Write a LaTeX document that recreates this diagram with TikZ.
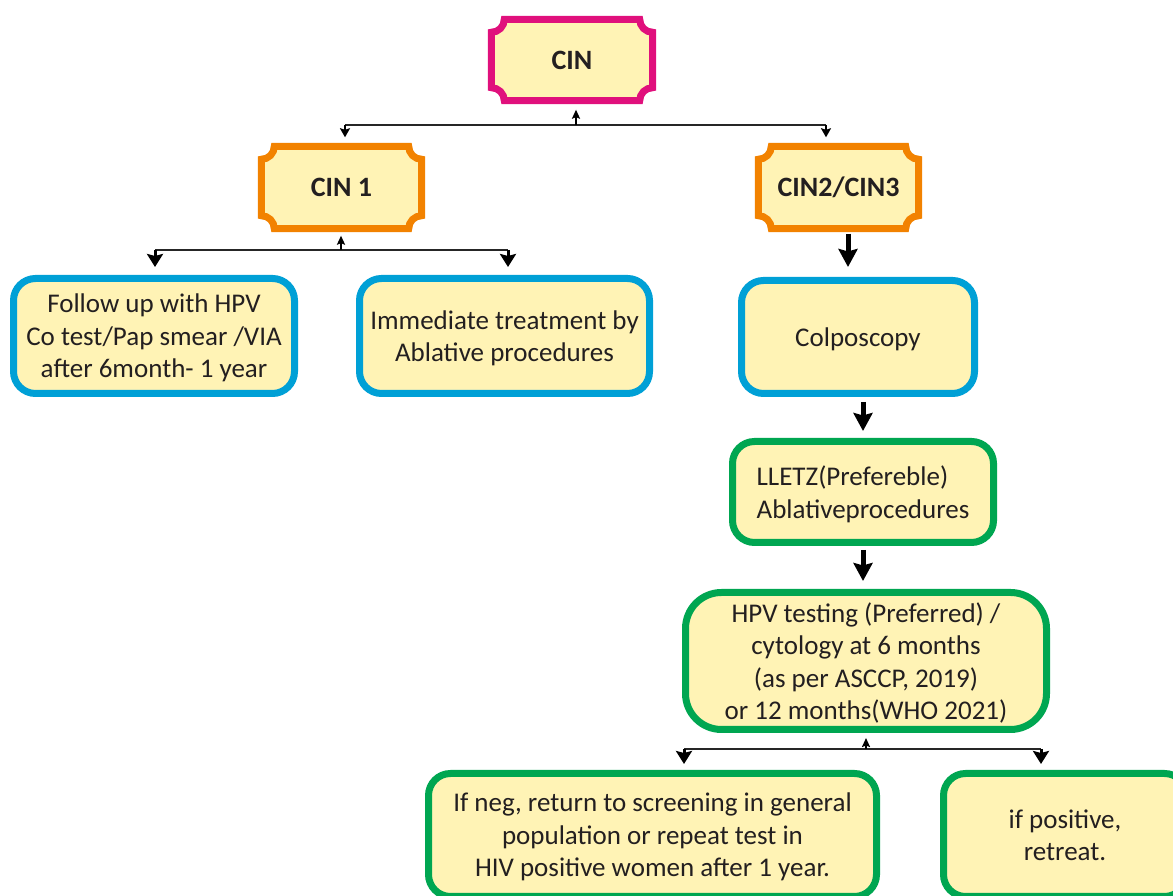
\documentclass[tikz,border=0pt]{standalone}
\usepackage{fontspec}
\setmainfont{Carlito}
\usetikzlibrary{arrows.meta,backgrounds}
\definecolor{boxfill}{RGB}{255,243,181}
\definecolor{cinpink}{RGB}{224,16,124}
\definecolor{cinorange}{RGB}{242,130,0}
\definecolor{cinblue}{RGB}{0,160,214}
\definecolor{cingreen}{RGB}{0,166,81}
\definecolor{inktext}{RGB}{35,31,32}
% frame with concave (notched) corners, drawn behind a named node
\newcommand\notchframe[2]{%
  \begin{pgfonlayer}{background}
  \draw[line width=7pt,draw=#2,fill=boxfill]
    ([xshift=13pt]#1.north west) -- ([xshift=-13pt]#1.north east)
    arc[start angle=180,end angle=270,radius=13pt] -- ([yshift=13pt]#1.south east)
    arc[start angle=90,end angle=180,radius=13pt] -- ([xshift=13pt]#1.south west)
    arc[start angle=0,end angle=90,radius=13pt] -- ([yshift=-13pt]#1.north west)
    arc[start angle=270,end angle=360,radius=13pt] -- cycle;
  \end{pgfonlayer}}
\begin{document}
\begin{tikzpicture}[x=1pt,y=1pt,
  every node/.style={font=\fontsize{27}{32.5}\selectfont,text=inktext},
  notched/.style={inner sep=0pt,font=\fontsize{28}{32}\selectfont\bfseries},
  roundbox/.style={draw=#1,fill=boxfill,line width=7pt,rounded corners=22pt,inner sep=0pt,text depth=0pt,align=center},
  bar/.style={line width=1.8pt,black!85},
  upsmall/.style={line width=1.8pt,-{Stealth[length=9pt,width=8pt,inset=1.5pt]}},
  downsmall/.style={line width=2.5pt,-{Stealth[length=9pt,width=10pt,inset=1.5pt]}},
  downmid/.style={line width=3pt,-{Stealth[length=13pt,width=16pt,inset=2pt]}},
  downbig/.style={line width=5pt,-{Stealth[length=18pt,width=19pt,inset=2.5pt]}}]
\useasboundingbox (0,0) rectangle (1173,896);

% top level
\node[notched,minimum width=161pt,minimum height=81pt] (cin) at (572,836) {CIN};
\node[notched,minimum width=160pt,minimum height=82pt] (cinone) at (341.5,708.5) {CIN 1};
\node[notched,minimum width=160pt,minimum height=82pt] (cintwo) at (838.5,708.5) {CIN2/CIN3};
\notchframe{cin}{cinpink}
\notchframe{cinone}{cinorange}
\notchframe{cintwo}{cinorange}

% CIN 1 branch
\node[roundbox=cinblue,minimum width=281pt,minimum height=115pt] (follow) at (154,560)
  {Follow up with HPV\\Co test/Pap smear /VIA\\after 6month- 1 year};
\node[roundbox=cinblue,minimum width=290pt,minimum height=115pt] (immed) at (504.5,560)
  {Immediate treatment by\\Ablative procedures};

% CIN2/CIN3 branch
\node[roundbox=cinblue,minimum width=233pt,minimum height=113pt] (colpo) at (858,559) {Colposcopy};
\node[roundbox=cingreen,minimum width=261pt,minimum height=101pt,align=left] (lletz) at (863,404)
  {LLETZ(Prefereble)\\Ablativeprocedures};
\node[roundbox=cingreen,rounded corners=36pt,minimum width=361pt,minimum height=137pt] (hpv) at (866,235)
  {HPV testing (Preferred) /\\cytology at 6 months\\(as per ASCCP, 2019)\\or 12 months(WHO 2021)};
\node[roundbox=cingreen,minimum width=448pt,minimum height=123pt] (neg) at (652.5,61)
  {If neg, return to screening in general\\population or repeat test in\\HIV positive women after 1 year.};
\node[roundbox=cingreen,minimum width=243pt,minimum height=123pt] (pos) at (1065,61)
  {if positive,\\retreat.};

% branching lines
\coordinate (j1) at (576,771);
\coordinate (a1) at (345,771);
\coordinate (b1) at (826,771);
\draw[bar] (a1) -- (b1);
\draw[upsmall,shorten >=9pt] (j1) -- (j1 |- cin.south);
\draw[downsmall,shorten >=9pt] (a1) -- (a1 |- cinone.north);
\draw[downsmall,shorten >=9pt] (b1) -- (b1 |- cintwo.north);

\coordinate (j2) at (341,646);
\coordinate (a2) at (155,646);
\coordinate (b2) at (508,646);
\draw[bar] (a2) -- (b2);
\draw[upsmall,shorten >=7pt] (j2) -- (j2 |- cinone.south);
\draw[downmid,shorten >=8pt] (a2) -- (a2 |- follow.north);
\draw[downmid,shorten >=8pt] (b2) -- (b2 |- immed.north);

\draw[downbig,shorten <=5pt,shorten >=10pt] ([xshift=9.5pt]cintwo.south) -- ([xshift=9.5pt]cintwo.south |- colpo.north);
\draw[downbig,shorten <=5pt,shorten >=7pt] (colpo.south -| lletz) -- (lletz.north);
\draw[downbig,shorten <=4pt,shorten >=8pt] (lletz.south) -- (lletz.south |- hpv.north);

\coordinate (j3) at (866,147);
\coordinate (a3) at (684,147);
\coordinate (b3) at (1041,147);
\draw[bar] (a3) -- (b3);
\draw[upsmall,shorten >=5pt] (j3) -- (j3 |- hpv.south);
\draw[downmid,shorten >=6pt] (a3) -- (a3 |- neg.north);
\draw[downmid,shorten >=6pt] (b3) -- (b3 |- pos.north);
\end{tikzpicture}
\end{document}
